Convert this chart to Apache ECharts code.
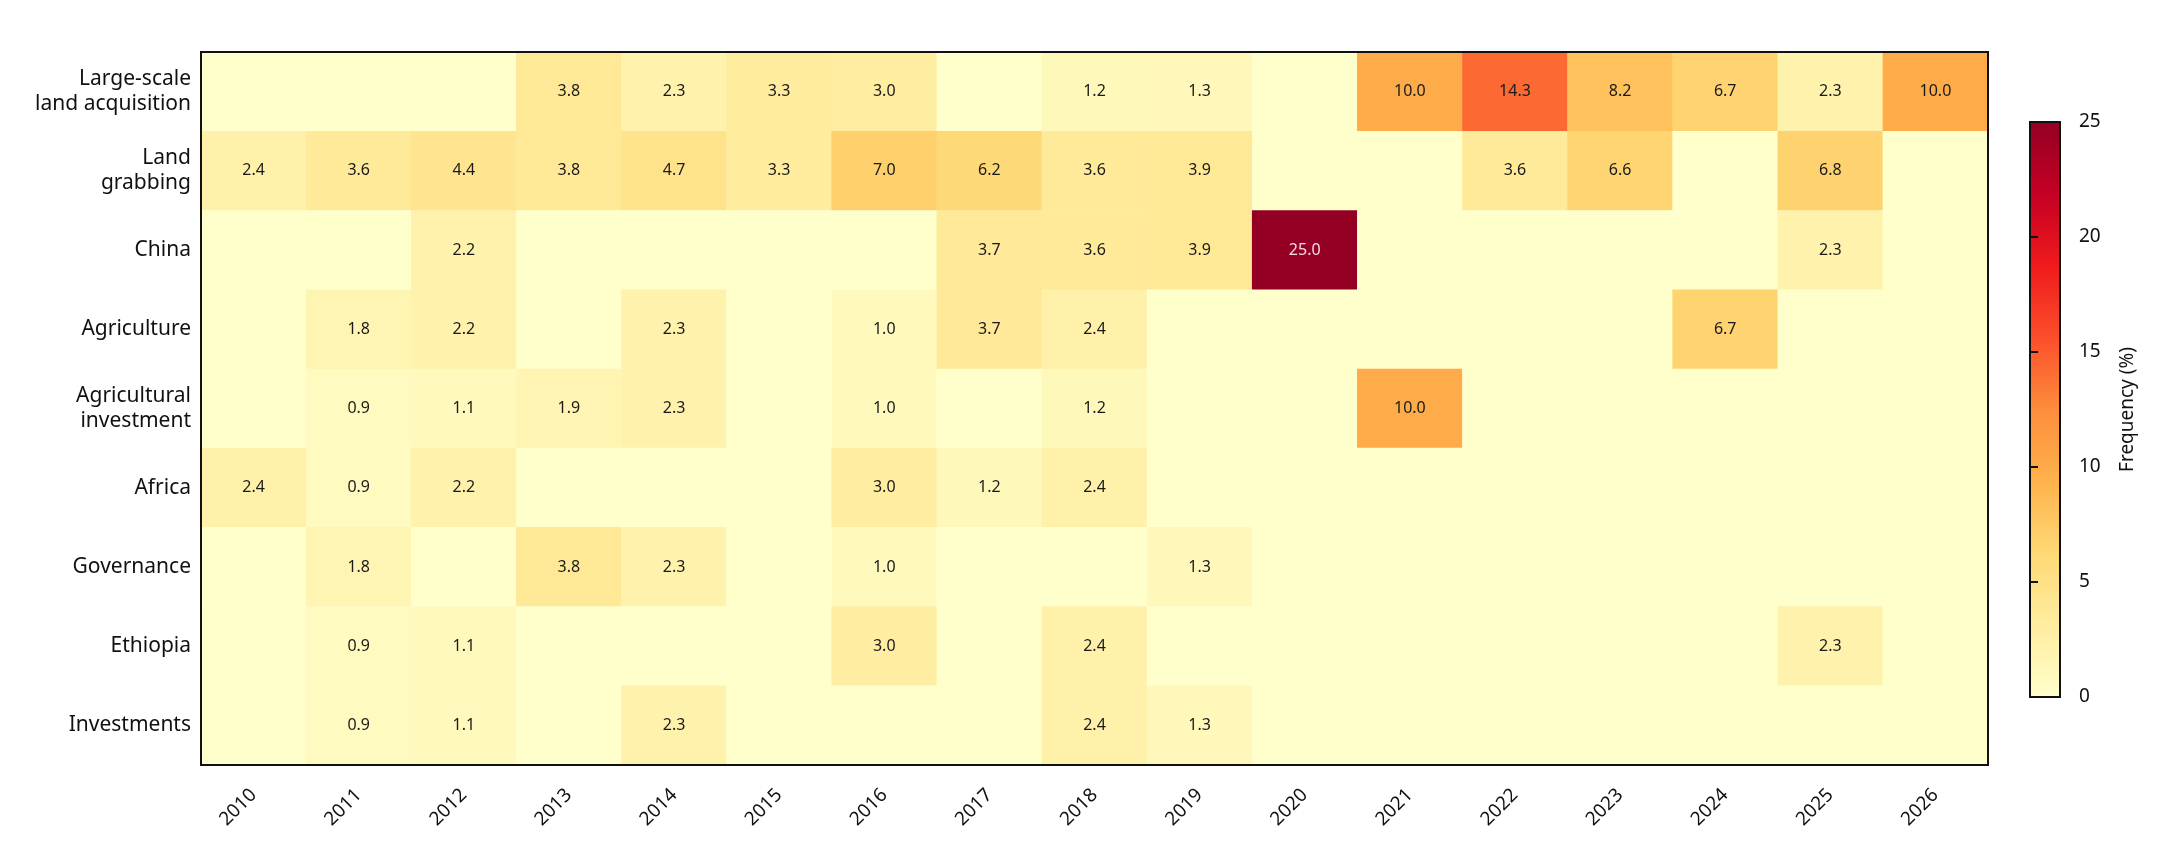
<!DOCTYPE html>
<html>
<head>
<meta charset="utf-8">
<script src="https://cdn.jsdelivr.net/npm/echarts@6/dist/echarts.min.js"></script>
<style>
  html, body { margin: 0; padding: 0; background: #fff; }
  #chart { width: 2172px; height: 852px; }
</style>
</head>
<body>
<div id="chart"></div>
<script>
  // categories
  var years = ['2010', '2011', '2012', '2013', '2014', '2015', '2016', '2017', '2018',
    '2019', '2020', '2021', '2022', '2023', '2024', '2025', '2026'];
  var topics = ['Large-scale\nland acquisition', 'Land\ngrabbing', 'China', 'Agriculture',
    'Agricultural\ninvestment', 'Africa', 'Governance', 'Ethiopia', 'Investments'];

  // frequency (%) per topic, one value per year
  var largeScale    = [0, 0, 0, 3.8, 2.3, 3.3, 3.0, 0, 1.2, 1.3, 0, 10.0, 14.3, 8.2, 6.7, 2.3, 10.0];
  var landGrabbing  = [2.4, 3.6, 4.4, 3.8, 4.7, 3.3, 7.0, 6.2, 3.6, 3.9, 0, 0, 3.6, 6.6, 0, 6.8, 0];
  var china         = [0, 0, 2.2, 0, 0, 0, 0, 3.7, 3.6, 3.9, 25.0, 0, 0, 0, 0, 2.3, 0];
  var agriculture   = [0, 1.8, 2.2, 0, 2.3, 0, 1.0, 3.7, 2.4, 0, 0, 0, 0, 0, 6.7, 0, 0];
  var agriInvest    = [0, 0.9, 1.1, 1.9, 2.3, 0, 1.0, 0, 1.2, 0, 0, 10.0, 0, 0, 0, 0, 0];
  var africa        = [2.4, 0.9, 2.2, 0, 0, 0, 3.0, 1.2, 2.4, 0, 0, 0, 0, 0, 0, 0, 0];
  var governance    = [0, 1.8, 0, 3.8, 2.3, 0, 1.0, 0, 0, 1.3, 0, 0, 0, 0, 0, 0, 0];
  var ethiopia      = [0, 0.9, 1.1, 0, 0, 0, 3.0, 0, 2.4, 0, 0, 0, 0, 0, 0, 2.3, 0];
  var investments   = [0, 0.9, 1.1, 0, 2.3, 0, 0, 0, 2.4, 1.3, 0, 0, 0, 0, 0, 0, 0];

  var rows = [largeScale, landGrabbing, china, agriculture, agriInvest,
    africa, governance, ethiopia, investments];

  // YlOrRd
  var palette = ['#ffffcc', '#ffeda0', '#fed976', '#feb24c', '#fd8d3c',
    '#fc4e2a', '#ef1a1c', '#c40024', '#930024'];

  var cells = [];
  rows.forEach(function (row, r) {
    row.forEach(function (v, c) {
      // light text on the darkest cell
      if (v > 18) cells.push({ value: [c, r, v], label: { color: '#f3dde3' } });
      else cells.push([c, r, v]);
    });
  });

  var font = '"Noto Sans", "DejaVu Sans", sans-serif';

  var chart = echarts.init(document.getElementById('chart'));
  var option = {
    backgroundColor: '#fff',
    animation: false,
    textStyle: { fontFamily: font },
    grid: [
      {
        left: 201, top: 52, width: 1787, height: 713,
        show: true, z: 5, borderColor: '#111', borderWidth: 2,
        backgroundColor: 'transparent'
      },
      {
        // colour bar
        left: 2030, top: 122, width: 30, height: 575,
        show: true, borderColor: '#111', borderWidth: 2,
        backgroundColor: {
          type: 'linear', x: 0, y: 1, x2: 0, y2: 0,
          colorStops: palette.map(function (c, i) {
            return { offset: i / (palette.length - 1), color: c };
          })
        }
      }
    ],
    xAxis: [
      {
        type: 'category', gridIndex: 0, data: years,
        axisLine: { show: false }, axisTick: { show: false }, splitLine: { show: false },
        axisLabel: { rotate: 45, margin: 27, fontSize: 19, color: '#111', fontFamily: font }
      },
      { type: 'value', gridIndex: 1, show: false, min: 0, max: 1 }
    ],
    yAxis: [
      {
        type: 'category', gridIndex: 0, data: topics, inverse: true,
        axisLine: { show: false }, axisTick: { show: false }, splitLine: { show: false },
        axisLabel: { margin: 10, fontSize: 21, lineHeight: 25, color: '#111', fontFamily: font }
      },
      {
        type: 'value', gridIndex: 1, position: 'right', min: 0, max: 25, interval: 5,
        axisLine: { show: false },
        axisTick: { show: true, length: 8, lineStyle: { color: '#111', width: 2 } },
        splitLine: { show: false },
        axisLabel: { margin: 19, fontSize: 19, color: '#111', fontFamily: font },
        name: 'Frequency (%)', nameLocation: 'middle', nameRotate: 90, nameGap: 58,
        nameTextStyle: { fontSize: 19, color: '#111', fontFamily: font }
      }
    ],
    visualMap: {
      type: 'continuous', show: false, min: 0, max: 25, seriesIndex: 0,
      inRange: { color: palette }
    },
    series: [
      {
        type: 'heatmap', xAxisIndex: 0, yAxisIndex: 0, data: cells,
        label: {
          show: true, fontSize: 16, fontFamily: font, color: '#1a1a1a',
          formatter: function (p) {
            var v = p.value[2];
            return v > 0 ? v.toFixed(1) : '';
          }
        },
        emphasis: { disabled: true }
      }
    ]
  };

  chart.setOption(option);
</script>
</body>
</html>
